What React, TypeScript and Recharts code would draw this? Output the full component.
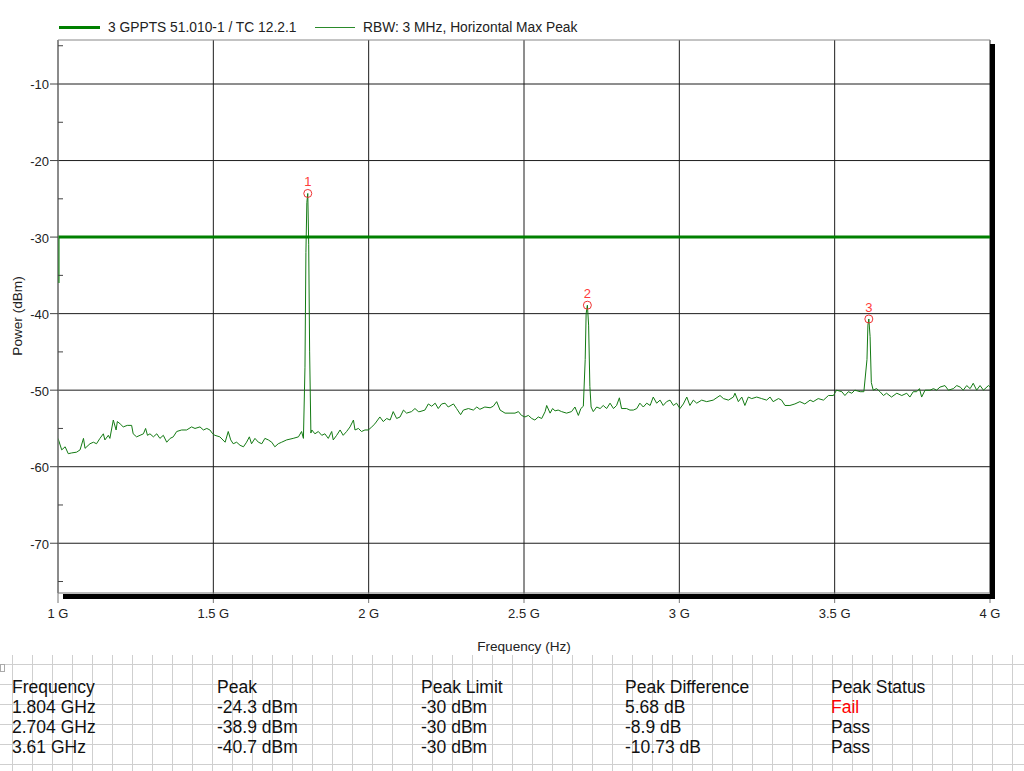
import { LineChart, Line, XAxis, YAxis, CartesianGrid, ReferenceLine, ReferenceDot } from 'recharts';

const traceFreq = [
  1.0, 1.012, 1.023, 1.033, 1.044, 1.06, 1.071, 1.082, 1.087, 1.103, 1.114, 1.124, 1.135, 1.146, 1.151, 1.162,
  1.167, 1.178, 1.187, 1.191, 1.2, 1.21, 1.223, 1.237, 1.242, 1.253, 1.264, 1.275, 1.282, 1.288, 1.296, 1.307,
  1.318, 1.328, 1.339, 1.35, 1.361, 1.371, 1.382, 1.398, 1.414, 1.43, 1.441, 1.457, 1.468, 1.479, 1.489, 1.498,
  1.505, 1.521, 1.538, 1.548, 1.556, 1.564, 1.575, 1.586, 1.597, 1.607, 1.616, 1.623, 1.634, 1.645, 1.656, 1.666,
  1.677, 1.688, 1.698, 1.709, 1.72, 1.736, 1.757, 1.774, 1.784, 1.79, 1.795, 1.798, 1.801, 1.804, 1.807, 1.81,
  1.814, 1.817, 1.827, 1.838, 1.849, 1.859, 1.87, 1.881, 1.886, 1.897, 1.908, 1.918, 1.929, 1.94, 1.951, 1.956,
  1.967, 1.977, 1.988, 1.999, 2.01, 2.02, 2.036, 2.047, 2.058, 2.069, 2.079, 2.09, 2.101, 2.112, 2.122, 2.138,
  2.149, 2.16, 2.165, 2.181, 2.192, 2.203, 2.214, 2.224, 2.235, 2.246, 2.256, 2.273, 2.283, 2.296, 2.305, 2.321,
  2.337, 2.348, 2.358, 2.374, 2.391, 2.401, 2.412, 2.423, 2.439, 2.455, 2.471, 2.482, 2.492, 2.503, 2.514, 2.525,
  2.535, 2.546, 2.557, 2.568, 2.573, 2.584, 2.592, 2.6, 2.61, 2.621, 2.637, 2.653, 2.664, 2.675, 2.683, 2.691,
  2.697, 2.7, 2.704, 2.708, 2.712, 2.716, 2.723, 2.734, 2.745, 2.755, 2.766, 2.777, 2.788, 2.798, 2.807, 2.814,
  2.83, 2.841, 2.852, 2.863, 2.873, 2.884, 2.895, 2.906, 2.916, 2.927, 2.938, 2.948, 2.959, 2.97, 2.981, 2.991,
  3.002, 3.013, 3.024, 3.034, 3.045, 3.056, 3.072, 3.088, 3.109, 3.131, 3.142, 3.158, 3.174, 3.179, 3.19, 3.201,
  3.211, 3.222, 3.233, 3.249, 3.265, 3.281, 3.292, 3.302, 3.319, 3.329, 3.34, 3.356, 3.372, 3.388, 3.404, 3.421,
  3.431, 3.447, 3.464, 3.48, 3.496, 3.506, 3.523, 3.533, 3.544, 3.555, 3.565, 3.582, 3.594, 3.604, 3.607, 3.61,
  3.614, 3.618, 3.624, 3.635, 3.646, 3.657, 3.667, 3.683, 3.7, 3.716, 3.732, 3.742, 3.753, 3.764, 3.773, 3.78,
  3.791, 3.807, 3.818, 3.828, 3.839, 3.855, 3.866, 3.882, 3.893, 3.904, 3.914, 3.925, 3.936, 3.946, 3.957, 3.968,
  3.979, 3.995, 4.0,
];
const tracePower = [
  -56.3, -57.8, -57.4, -58.3, -58.2, -58.1, -57.8, -56.3, -57.6, -57.0, -56.8, -57.0, -56.3, -55.7, -56.5, -55.9,
  -56.3, -53.9, -55.2, -54.1, -54.4, -54.8, -54.6, -54.6, -55.7, -56.1, -55.9, -55.7, -55.0, -55.9, -55.7, -56.1,
  -55.7, -56.3, -55.9, -56.8, -56.3, -56.1, -55.4, -55.2, -55.2, -54.8, -55.0, -54.8, -55.2, -55.0, -55.2, -55.7,
  -55.9, -56.1, -56.8, -55.4, -56.5, -57.0, -56.8, -57.2, -57.4, -56.8, -56.1, -57.0, -56.3, -56.8, -57.0, -56.3,
  -56.5, -56.8, -57.4, -57.0, -56.8, -56.5, -56.3, -56.1, -55.4, -56.3, -47.0, -32.0, -25.5, -24.3, -31.0, -45.0,
  -55.6, -55.2, -55.7, -55.4, -55.9, -55.7, -56.3, -55.4, -56.5, -55.9, -55.2, -55.9, -55.4, -54.8, -53.9, -55.2,
  -55.0, -55.4, -55.2, -55.2, -54.8, -54.4, -53.5, -54.1, -53.7, -53.9, -52.8, -53.7, -53.5, -52.6, -53.0, -52.8,
  -52.4, -52.8, -52.8, -52.6, -51.8, -52.1, -51.7, -52.4, -51.8, -51.7, -52.2, -51.8, -52.4, -53.2, -52.6, -52.4,
  -52.6, -52.2, -52.5, -52.2, -52.3, -52.1, -51.5, -52.6, -53.0, -53.0, -53.0, -52.8, -53.3, -53.5, -53.3, -53.7,
  -53.9, -53.5, -53.7, -52.8, -52.0, -53.0, -52.4, -52.7, -52.6, -52.8, -53.0, -52.8, -52.2, -53.3, -52.4, -52.1,
  -46.0, -40.0, -38.9, -41.5, -49.5, -52.2, -52.8, -52.2, -52.4, -52.0, -52.4, -51.7, -52.4, -52.0, -51.0, -52.4,
  -52.4, -52.6, -52.6, -52.4, -51.7, -52.2, -51.7, -52.0, -50.9, -51.7, -51.3, -52.0, -51.5, -51.3, -52.0, -51.7,
  -52.4, -51.8, -50.9, -52.0, -51.3, -51.7, -51.3, -51.5, -51.3, -50.7, -51.1, -51.3, -50.9, -50.4, -51.5, -50.9,
  -52.0, -50.9, -51.1, -50.9, -51.1, -51.3, -50.9, -51.5, -51.1, -51.3, -52.0, -52.0, -51.8, -51.5, -51.8, -51.3,
  -51.5, -51.1, -51.3, -50.7, -50.7, -50.0, -50.2, -50.7, -50.2, -50.4, -50.0, -50.2, -50.2, -46.0, -41.5, -40.7,
  -43.0, -49.0, -50.0, -49.8, -50.2, -50.7, -50.4, -50.9, -50.4, -50.7, -50.4, -50.9, -50.2, -50.2, -49.8, -50.9,
  -50.0, -50.0, -49.8, -50.0, -49.6, -49.4, -50.0, -49.8, -49.4, -49.6, -50.0, -49.4, -49.8, -49.1, -50.0, -49.4,
  -50.0, -49.4, -49.6,
];

const limitFreq = [1, 1, 4];
const limitPower = [-36, -30, -30];

const peakFreq = [1.804, 2.704, 3.61];
const peakPower = [-24.3, -38.9, -40.7];
const peakNames = ['1', '2', '3'];

const xTicks = [1, 1.5, 2, 2.5, 3, 3.5, 4];
const yMajor = [-70, -60, -50, -40, -30, -20, -10];
const yTicks = [-75, -70, -65, -60, -55, -50, -45, -40, -35, -30, -25, -20, -15, -10, -5];

const tableHeaders = ['Frequency', 'Peak', 'Peak Limit', 'Peak Difference', 'Peak Status'];
const tableFreq = ['1.804 GHz', '2.704 GHz', '3.61 GHz'];
const tablePeak = ['-24.3 dBm', '-38.9 dBm', '-40.7 dBm'];
const tableLimit = ['-30 dBm', '-30 dBm', '-30 dBm'];
const tableDiff = ['5.68 dB', '-8.9 dB', '-10.73 dB'];
const tableStatus = ['Fail', 'Pass', 'Pass'];

const FONT = '"Liberation Sans", Arial, sans-serif';
const Y_MIN = -76.5;
const Y_MAX = -4.25;
const CHART_H = 655;
const PLOT_L = 58;
const PLOT_R = 990;
const PLOT_T = 40;
const PLOT_B = 593;

const traceData = traceFreq.map((f, i) => ({ f, v: tracePower[i] }));
const limitData = limitFreq.map((f, i) => ({ f, v: limitPower[i] }));

function YTick(props: any) {
  const { x, y, payload } = props;
  const v = payload.value;
  const major = v % 10 === 0;
  return (
    <g>
      {major ? (
        <line x1={x - 8} x2={x} y1={y} y2={y} stroke="#444" />
      ) : (
        <line x1={x} x2={x + 5} y1={y} y2={y} stroke="#444" />
      )}
      {major && (
        <text x={x - 9} y={y} dy="0.42em" textAnchor="end" fontSize={13} fill="#222" fontFamily={FONT}>
          {v}
        </text>
      )}
    </g>
  );
}

const colX = [12, 217, 421, 625, 831];
const rowBase = [38, 58, 78, 98];

function Table() {
  const cols = [tableFreq, tablePeak, tableLimit, tableDiff, tableStatus];
  const vLines = Array.from({ length: 51 }, (_, k) => 12.5 + 20 * k);
  const hLines = Array.from({ length: 6 }, (_, k) => 9.5 + 20 * k);
  return (
    <svg width={1024} height={116} style={{ position: 'absolute', left: 0, top: CHART_H }}>
      {vLines.map((x) => (
        <line key={'v' + x} x1={x} x2={x} y1={0} y2={116} stroke="#cfcfcf" />
      ))}
      {hLines.map((y) => (
        <line key={'h' + y} x1={0} x2={1024} y1={y} y2={y} stroke="#cfcfcf" />
      ))}
      <rect x={0.5} y={9.5} width={4} height={7} fill="#fff" stroke="#aaa" />
      {tableHeaders.map((h, c) => (
        <text key={h} x={colX[c]} y={rowBase[0]} fontSize={17.5} fontFamily={FONT} fill="#111">
          {h}
        </text>
      ))}
      {cols.map((col, c) =>
        col.map((s, r) => (
          <text
            key={c + '-' + r}
            x={colX[c]}
            y={rowBase[r + 1]}
            fontSize={17.5}
            fontFamily={FONT}
            fill={s === 'Fail' ? '#ff0000' : '#111'}
          >
            {s}
          </text>
        ))
      )}
    </svg>
  );
}

export default function App() {
  return (
    <div
      style={{
        position: 'absolute',
        left: 0,
        top: 0,
        width: 1024,
        height: 771,
        background: '#fff',
        fontFamily: FONT,
        overflow: 'hidden',
      }}
    >
      <LineChart
        width={1024}
        height={CHART_H}
        margin={{ top: PLOT_T, right: 1024 - PLOT_R, bottom: CHART_H - PLOT_B - 30, left: PLOT_L - 50 }}
      >
        <CartesianGrid stroke="#1c1c1c" horizontalValues={yMajor} verticalValues={xTicks} />
        <XAxis
          dataKey="f"
          type="number"
          domain={[1, 4]}
          ticks={xTicks}
          interval={0}
          allowDataOverflow
          height={30}
          tickSize={10}
          tickMargin={6}
          stroke="#777"
          tick={{ fontSize: 13, fill: '#222', fontFamily: FONT }}
          tickFormatter={(v) => `${v} G`}
        />
        <YAxis
          type="number"
          domain={[Y_MIN, Y_MAX]}
          ticks={yTicks}
          interval={0}
          allowDataOverflow
          width={50}
          tickSize={0}
          tickMargin={0}
          tickLine={false}
          stroke="#888"
          tick={<YTick />}
        />
        <ReferenceLine y={Y_MAX} stroke="#888" />
        <Line
          data={traceData}
          dataKey="v"
          type="linear"
          stroke="#137a13"
          strokeWidth={1}
          dot={false}
          isAnimationActive={false}
        />
        <Line
          data={limitData}
          dataKey="v"
          type="linear"
          stroke="#008000"
          strokeWidth={3}
          dot={false}
          isAnimationActive={false}
        />
        {peakFreq.map((f, i) => (
          <ReferenceDot
            key={peakNames[i]}
            x={f}
            y={peakPower[i]}
            r={4}
            fill="none"
            stroke="#ee3333"
            strokeWidth={1}
            label={{ value: peakNames[i], position: 'top', offset: 3, fill: '#ff3b3b', fontSize: 13 }}
          />
        ))}
      </LineChart>

      {/* frame shadow */}
      <div style={{ position: 'absolute', left: PLOT_R, top: PLOT_T + 4, width: 5, height: PLOT_B - PLOT_T + 2, background: '#000' }} />
      <div style={{ position: 'absolute', left: PLOT_L + 5, top: PLOT_B + 1, width: PLOT_R - PLOT_L, height: 5, background: '#000' }} />

      {/* legend */}
      <div style={{ position: 'absolute', left: 59, top: 26, width: 41, height: 3, background: '#008000' }} />
      <div style={{ position: 'absolute', left: 108, top: 19, fontSize: 13.8, lineHeight: '17px', color: '#222', whiteSpace: 'nowrap' }}>
        3 GPPTS 51.010-1 / TC 12.2.1
      </div>
      <div style={{ position: 'absolute', left: 315, top: 27, width: 40, height: 1, background: '#2a8a2a' }} />
      <div style={{ position: 'absolute', left: 363, top: 19, fontSize: 13.8, lineHeight: '17px', color: '#222', whiteSpace: 'nowrap' }}>
        RBW: 3 MHz, Horizontal Max Peak
      </div>

      {/* axis titles */}
      <div
        style={{
          position: 'absolute',
          left: (PLOT_L + PLOT_R) / 2 - 100,
          top: 639,
          width: 200,
          textAlign: 'center',
          fontSize: 13.6,
          lineHeight: '16px',
          color: '#222',
        }}
      >
        Frequency (Hz)
      </div>
      <div
        style={{
          position: 'absolute',
          left: 18 - 60,
          top: 316 - 8,
          width: 120,
          textAlign: 'center',
          fontSize: 13.6,
          lineHeight: '16px',
          color: '#222',
          transform: 'rotate(-90deg)',
        }}
      >
        Power (dBm)
      </div>

      <Table />
    </div>
  );
}
